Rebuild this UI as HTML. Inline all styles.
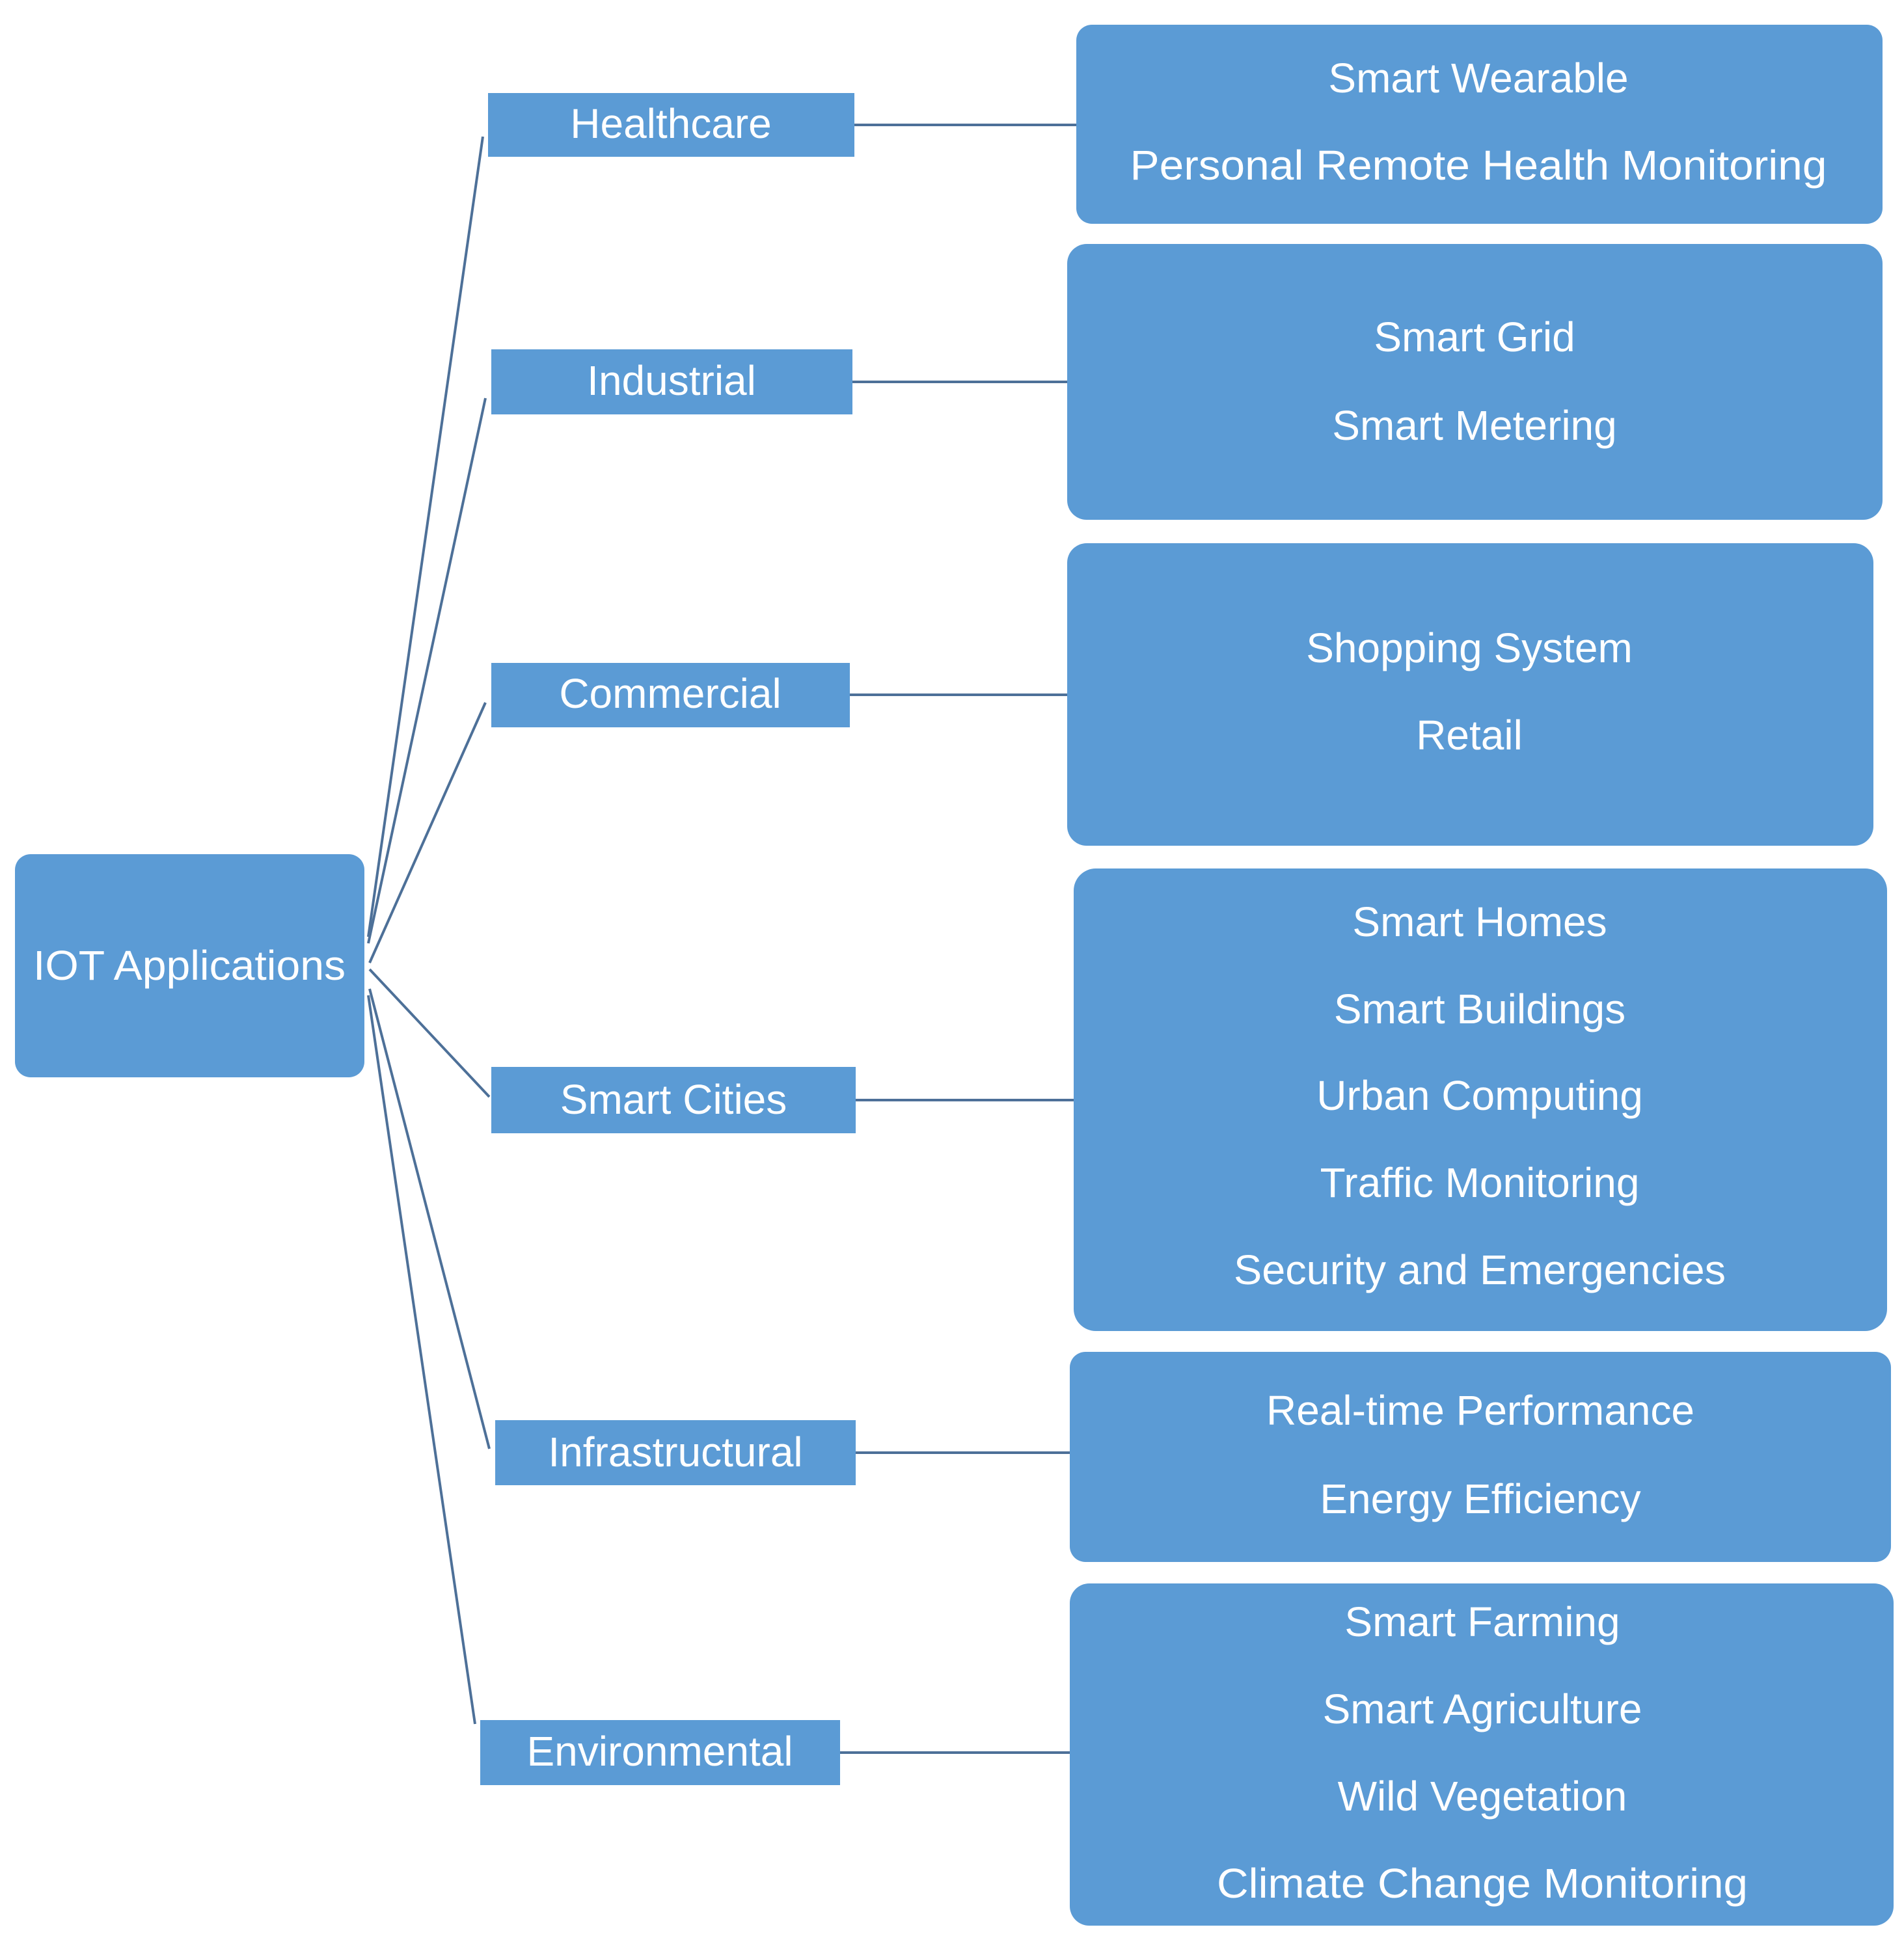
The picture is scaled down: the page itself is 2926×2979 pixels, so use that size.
<!DOCTYPE html>
<html><head><meta charset="utf-8"><style>body{margin:0;background:#fff}svg{display:block}</style></head>
<body>
<svg width="2926" height="2979" viewBox="0 0 2926 2979" xmlns="http://www.w3.org/2000/svg" font-family="'Liberation Sans', sans-serif">
<g stroke="#4d7098" stroke-width="4" fill="none">
<line x1="566" y1="1440" x2="742" y2="210"/>
<line x1="566" y1="1450" x2="746" y2="612"/>
<line x1="568" y1="1480" x2="746" y2="1080"/>
<line x1="568" y1="1490" x2="752" y2="1686"/>
<line x1="568" y1="1520" x2="752" y2="2227"/>
<line x1="566" y1="1530" x2="730" y2="2650"/>
<line x1="1313" y1="192" x2="1654" y2="192"/>
<line x1="1310" y1="587" x2="1640" y2="587"/>
<line x1="1306" y1="1068" x2="1640" y2="1068"/>
<line x1="1315" y1="1691" x2="1650" y2="1691"/>
<line x1="1315" y1="2233" x2="1644" y2="2233"/>
<line x1="1291" y1="2694" x2="1644" y2="2694"/>
</g>
<g fill="#5b9bd5">
<rect x="23" y="1313" width="537" height="343" rx="24"/>
<rect x="750" y="143" width="563" height="98"/>
<rect x="755" y="537" width="555" height="100"/>
<rect x="755" y="1019" width="551" height="99"/>
<rect x="755" y="1640" width="560" height="102"/>
<rect x="761" y="2183" width="554" height="100"/>
<rect x="738" y="2644" width="553" height="100"/>
<rect x="1654" y="38" width="1239" height="306" rx="24"/>
<rect x="1640" y="375" width="1253" height="424" rx="30"/>
<rect x="1640" y="835" width="1239" height="465" rx="30"/>
<rect x="1650" y="1335" width="1250" height="711" rx="34"/>
<rect x="1644" y="2078" width="1262" height="323" rx="24"/>
<rect x="1644" y="2434" width="1266" height="526" rx="30"/>
</g>
<g fill="#fff" font-size="64" text-anchor="middle" dominant-baseline="central">
<text x="291" y="1484" textLength="480" lengthAdjust="spacingAndGlyphs">IOT Applications</text>
<text x="1031" y="190">Healthcare</text>
<text x="1032" y="585">Industrial</text>
<text x="1030" y="1066">Commercial</text>
<text x="1035" y="1690">Smart Cities</text>
<text x="1038" y="2232">Infrastructural</text>
<text x="1014" y="2692">Environmental</text>
<text x="2272" y="120">Smart Wearable</text>
<text x="2272" y="254" textLength="1071" lengthAdjust="spacingAndGlyphs">Personal Remote Health Monitoring</text>
<text x="2266" y="518">Smart Grid</text>
<text x="2266" y="654">Smart Metering</text>
<text x="2258" y="996">Shopping System</text>
<text x="2258" y="1130">Retail</text>
<text x="2274" y="1417">Smart Homes</text>
<text x="2274" y="1551">Smart Buildings</text>
<text x="2274" y="1684">Urban Computing</text>
<text x="2274" y="1818">Traffic Monitoring</text>
<text x="2274" y="1952" textLength="756" lengthAdjust="spacingAndGlyphs">Security and Emergencies</text>
<text x="2275" y="2168">Real-time Performance</text>
<text x="2275" y="2304">Energy Efficiency</text>
<text x="2278" y="2493">Smart Farming</text>
<text x="2278" y="2627">Smart Agriculture</text>
<text x="2278" y="2761">Wild Vegetation</text>
<text x="2278" y="2895" textLength="816" lengthAdjust="spacingAndGlyphs">Climate Change Monitoring</text>
</g>
</svg>
</body></html>
